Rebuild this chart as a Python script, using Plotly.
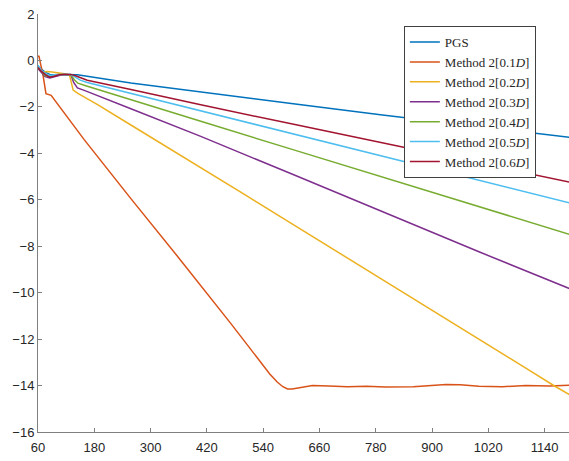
import plotly.graph_objects as go

# ---- data ----
series_names = ["PGS", "Method 2[0.1<i>D</i>]", "Method 2[0.2<i>D</i>]", "Method 2[0.3<i>D</i>]",
                "Method 2[0.4<i>D</i>]", "Method 2[0.5<i>D</i>]", "Method 2[0.6<i>D</i>]"]
colors = ["#0072BD", "#D95319", "#EDB120", "#7E2F8E", "#77AC30", "#4DBEEE", "#A2142F"]

pgs_x = [60, 66, 75, 85, 95, 105, 115, 130, 144, 258, 407, 600, 790, 1000, 1195]
pgs_y = [-0.25, -0.35, -0.5, -0.6, -0.62, -0.6, -0.6, -0.6, -0.62, -0.97, -1.34, -1.85, -2.34, -2.84, -3.31]

m01_x = [60, 62, 66, 70, 77, 88, 158, 258, 364, 470, 554, 570, 582, 592, 602, 620, 645, 680, 720, 760,
         800, 860, 900, 930, 960, 1000, 1050, 1100, 1150, 1195]
m01_y = [0.15, 0.2, -0.2, -0.55, -1.43, -1.5, -3.4, -5.95, -8.6, -11.3, -13.5, -13.85, -14.05, -14.15,
         -14.15, -14.08, -14.0, -14.02, -14.05, -14.03, -14.06, -14.05, -14.0, -13.95, -13.97, -14.03,
         -14.05, -14.0, -14.02, -13.98]

m02_x = [60, 66, 72, 80, 90, 100, 110, 120, 127, 131, 135, 145, 187, 258, 329, 385, 500, 650, 800,
         917, 1020, 1100, 1162, 1195]
m02_y = [-0.3, -0.45, -0.5, -0.48, -0.5, -0.52, -0.55, -0.58, -0.62, -1.0, -1.28, -1.42, -1.9, -2.78,
         -3.65, -4.33, -5.77, -7.64, -9.5, -10.98, -12.25, -13.25, -14.03, -14.42]

m03_x = [60, 66, 75, 85, 95, 105, 115, 130, 136, 144, 160, 258, 407, 600, 833, 1000, 1195]
m03_y = [-0.35, -0.5, -0.7, -0.75, -0.7, -0.62, -0.6, -0.62, -0.95, -1.18, -1.3, -2.08, -3.27, -4.88,
         -6.85, -8.24, -9.84]

m04_x = [60, 66, 75, 85, 95, 105, 115, 130, 137, 145, 160, 258, 407, 600, 833, 1000, 1195]
m04_y = [-0.3, -0.45, -0.65, -0.7, -0.65, -0.6, -0.6, -0.62, -0.82, -0.98, -1.08, -1.7, -2.62, -3.82,
         -5.27, -6.29, -7.5]

m05_x = [60, 66, 75, 85, 95, 105, 115, 130, 140, 150, 165, 258, 407, 600, 833, 1000, 1195]
m05_y = [-0.2, -0.4, -0.55, -0.65, -0.62, -0.6, -0.6, -0.6, -0.72, -0.85, -0.95, -1.42, -2.18, -3.16,
         -4.34, -5.17, -6.14]

m06_x = [60, 66, 75, 85, 95, 105, 115, 130, 140, 150, 165, 258, 407, 600, 833, 1000, 1195]
m06_y = [-0.3, -0.45, -0.6, -0.72, -0.68, -0.62, -0.6, -0.6, -0.66, -0.75, -0.85, -1.25, -1.91, -2.73,
         -3.7, -4.42, -5.25]

xs = [pgs_x, m01_x, m02_x, m03_x, m04_x, m05_x, m06_x]
ys = [pgs_y, m01_y, m02_y, m03_y, m04_y, m05_y, m06_y]

x_ticks = [60, 180, 300, 420, 540, 660, 780, 900, 1020, 1140]
y_ticks = [2, 0, -2, -4, -6, -8, -10, -12, -14, -16]

fig = go.Figure()
for name, c, x, y in zip(series_names, colors, xs, ys):
    fig.add_trace(go.Scatter(x=x, y=y, mode="lines", name=name,
                             line=dict(color=c, width=1.5)))

axis_common = dict(showgrid=False, zeroline=False, showline=True, linecolor="#808080", linewidth=1,
                   ticks="inside", ticklen=4, tickcolor="#808080", automargin=False,
                   ticklabeloverflow="allow",
                   tickfont=dict(family="Liberation Sans", size=13, color="#262626"))

fig.update_layout(
    width=569, height=461,
    margin=dict(l=38, r=0, t=14, b=29),
    plot_bgcolor="white", paper_bgcolor="white",
    xaxis=dict(range=[60, 1192], tickvals=x_ticks, ticklabelstandoff=3, **axis_common),
    yaxis=dict(range=[-16, 2], tickvals=y_ticks, **axis_common),
    legend=dict(x=0.689, y=0.971, xanchor="left", yanchor="top",
                bgcolor="white", bordercolor="#404040", borderwidth=1,
                font=dict(family="Liberation Serif", size=13, color="#262626"),
                tracegroupgap=0, itemwidth=30),
    showlegend=True,
)

# remove the default 8px page margin so the 569x461 figure fills the window exactly
fig.write_html("out.html", config={"displayModeBar": False},
               post_script="document.body.style.margin='0';")
